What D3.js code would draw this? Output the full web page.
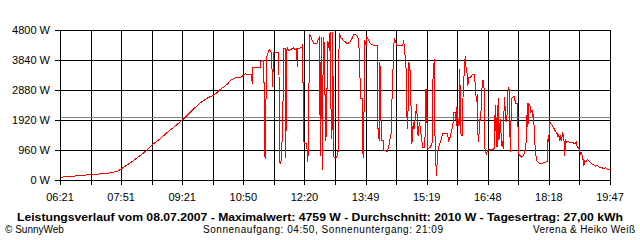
<!DOCTYPE html>
<html>
<head>
<meta charset="utf-8">
<script src="https://cdn.jsdelivr.net/npm/d3@7"></script>
<style>
  body { margin: 0; background: #fff; }
  svg { display: block; }
</style>
</head>
<body>
<svg></svg>
<script>
// day range and tick labels as printed on the chart
let dayStart = '06:21';
let dayEnd = '19:47';
let xLabels = ['06:21', '07:51', '09:21', '10:50', '12:20', '13:49', '15:19', '16:48', '18:18', '19:47'];
let yTicks = [0, 960, 1920, 2880, 3840, 4800];
let averageW = 2010;

let title = 'Leistungsverlauf vom 08.07.2007 - Maximalwert: 4759 W - Durchschnitt: 2010 W - Tagesertrag: 27,00 kWh';
let footLeft = '\u00a9 SunnyWeb';
let footMid = 'Sonnenaufgang: 04:50, Sonnenuntergang: 21:09';
let footRight = 'Verena & Heiko Wei\u00df';

// power samples [time, watts]
let samples = [
  ['06:21',107],['06:36',128],['06:55',171],['07:20',213],['07:34',245],['07:45',299],['07:50',373],
  ['07:59',501],['08:08',640],['08:18',800],['08:28',981],['08:37',1173],['08:48',1355],['08:58',1547],
  ['09:07',1707],['09:17',1888],['09:24',2027],['09:32',2208],['09:36',2293],['09:42',2400],['09:46',2485],
  ['09:51',2560],['09:56',2635],['10:01',2688],['10:05',2720],['10:11',2827],['10:15',2912],['10:20',2987],
  ['10:26',3093],['10:30',3200],['10:34',3253],['10:40',3307],['10:45',3307],['10:49',3360],['10:52',3413],
  ['11:01',3381],['11:02',3093],['11:03',3627],['11:14',3627],['11:15',3840],['11:19',3840],['11:20',853],
  ['11:21',693],['11:22',2315],['11:23',3947],['11:27',4192],['11:30',4107],['11:32',2987],['11:33',4107],
  ['11:41',4107],['11:42',640],['11:43',533],['11:45',693],['11:47',2400],['11:48',4235],['11:50',4235],
  ['11:51',715],['11:53',4267],['11:56',4160],['12:00',4213],['12:02',4250],['12:05',4190],['12:07',4213],
  ['12:08',3627],['12:09',4213],['12:15',4267],['12:16',4352],['12:17',1280],['12:19',1173],['12:22',1173],
  ['12:23',587],['12:24',853],['12:26',4661],['12:29',4555],['12:30',4448],['12:32',4400],['12:37',4400],
  ['12:38',4480],['12:40',4555],['12:42',800],['12:43',4587],['12:45',352],['12:46',4587],['12:48',4320],
  ['12:49',1867],['12:50',1280],['12:53',4448],['12:55',4160],['12:56',4759],['12:58',1333],['12:59',1653],
  ['13:00',4747],['13:01',800],['13:02',747],['13:06',747],['13:07',928],['13:08',928],['13:09',4107],
  ['13:10',4720],['13:11',4587],['13:14',4533],['13:16',4480],['13:19',4427],['13:21',4373],['13:25',4427],
  ['13:28',4533],['13:31',4693],['13:35',4640],['13:38',4533],['13:41',2613],['13:43',2613],['13:44',907],
  ['13:45',715],['13:46',2613],['13:47',4480],['13:49',4320],['13:50',4587],['13:53',4480],['13:55',4373],
  ['14:00',4320],['14:05',4320],['14:06',1760],['14:07',1440],['14:08',1280],['14:09',3787],['14:10',3307],
  ['14:11',1280],['14:14',1280],['14:15',960],['14:20',928],['14:22',1067],['14:24',1333],['14:26',1547],
  ['14:27',2827],['14:30',4555],['14:34',4320],['14:42',4320],['14:43',4373],['14:44',4480],['14:45',4160],
  ['14:47',3840],['14:48',3147],['14:49',1760],['14:50',1653],['14:51',3787],['14:53',3680],['14:54',2827],
  ['14:55',2187],['14:56',1173],['14:58',1867],['14:59',1653],['15:01',1973],['15:03',2453],['15:04',1760],
  ['15:05',1440],['15:07',1867],['15:09',1547],['15:10',1333],['15:12',1067],['15:15',1067],['15:16',2880],
  ['15:17',2933],['15:18',1920],['15:19',1013],['15:23',1067],['15:26',1227],['15:27',3467],['15:29',3893],
  ['15:30',907],['15:31',587],['15:32',160],['15:33',587],['15:34',960],['15:36',1120],['15:39',1333],
  ['15:41',1493],['15:48',1493],['15:49',1387],['15:50',1280],['15:52',1387],['15:54',1600],['15:56',1760],
  ['15:57',2165],['16:00',2165],['16:01',1760],['16:02',2347],['16:04',1867],['16:05',1760],['16:06',3573],
  ['16:08',1440],['16:10',1440],['16:11',2827],['16:14',3968],['16:15',3680],['16:16',3520],['16:17',3413],
  ['16:18',3040],['16:19',3307],['16:22',3307],['16:24',3381],['16:28',3381],['16:29',2880],['16:31',2507],
  ['16:32',2773],['16:33',1227],['16:34',1280],['16:35',1973],['16:36',1920],['16:38',2400],['16:39',3200],
  ['16:41',3200],['16:42',2827],['16:43',1013],['16:44',907],['16:45',853],['16:47',960],['16:51',992],
  ['16:57',1013],['16:58',2400],['17:00',1067],['17:01',2400],['17:02',1067],['17:03',2635],['17:04',1333],
  ['17:05',1760],['17:06',1973],['17:07',1120],['17:08',1280],['17:10',1013],['17:11',2293],['17:12',2667],
  ['17:13',1973],['17:15',1867],['17:16',2507],['17:17',2933],['17:18',2987],['17:19',2773],['17:20',907],
  ['17:22',2613],['17:23',2667],['17:26',2688],['17:28',2453],['17:31',2453],['17:32',853],['17:34',800],
  ['17:37',747],['17:40',821],['17:42',1013],['17:44',1333],['17:45',2485],['17:46',1707],['17:47',2453],
  ['17:49',2400],['17:50',2187],['17:52',2240],['17:53',2080],['17:54',2133],['17:55',1760],['17:56',1280],
  ['17:57',907],['17:59',640],['18:02',565],['18:05',533],['18:09',565],['18:14',608],['18:15',1333],
  ['18:16',1227],['18:17',1493],['18:18',1867],['18:21',1781],['18:23',1707],['18:25',1632],['18:27',1547],
  ['18:29',1493],['18:30',1387],['18:31',1493],['18:33',1280],['18:34',1440],['18:35',1280],['18:37',1493],
  ['18:38',1440],['18:39',1227],['18:40',800],['18:41',1333],['18:42',1227],['18:45',1248],['18:48',1205],
  ['18:52',1227],['18:54',1173],['18:57',1227],['18:58',1099],['19:00',1035],['19:02',960],['19:03',853],
  ['19:04',907],['19:06',747],['19:07',640],['19:08',480],['19:09',640],['19:11',587],['19:13',672],
  ['19:15',640],['19:18',565],['19:22',501],['19:25',459],['19:28',480],['19:31',416],['19:34',427],
  ['19:37',373],['19:40',405],['19:43',341],['19:47',341]
];

let width = 640;
let height = 240;
let plotLeft = 60, plotRight = 610, plotTop = 30, plotBottom = 180;
let font = '"Liberation Sans", Arial, sans-serif';

let parse = d3.timeParse('%H:%M');
let t0 = parse(dayStart);
let t1 = parse(dayEnd);

let svg = d3.select('svg')
    .attr('width', width)
    .attr('height', height);

let xScale = d3.scaleTime().domain([t0, t1]).range([plotLeft, plotRight]);
let yScale = d3.scaleLinear().domain([0, 4800]).range([plotBottom, plotTop]);

// 18 grid intervals, every second one labelled
let gridTimes = d3.range(19).map(i => new Date(+t0 + i * (t1 - t0) / 18));

let grid = svg.append('g')
    .attr('stroke', '#000')
    .attr('shape-rendering', 'crispEdges');

grid.selectAll('.v')
    .data(gridTimes)
    .enter()
    .append('line')
    .attr('x1', d => Math.round(xScale(d)) + 0.5)
    .attr('x2', d => Math.round(xScale(d)) + 0.5)
    .attr('y1', plotTop)
    .attr('y2', plotBottom + 5);

grid.selectAll('.h')
    .data(yTicks)
    .enter()
    .append('line')
    .attr('x1', plotLeft - 5)
    .attr('x2', plotRight + 1)
    .attr('y1', d => yScale(d) + 0.5)
    .attr('y2', d => yScale(d) + 0.5);

// average line
svg.append('line')
    .attr('x1', plotLeft + 1)
    .attr('x2', plotRight)
    .attr('y1', Math.round(yScale(averageW)) + 0.5)
    .attr('y2', Math.round(yScale(averageW)) + 0.5)
    .attr('stroke', '#808080')
    .attr('shape-rendering', 'crispEdges');

// power line
let line = d3.line()
    .x(d => xScale(parse(d[0])))
    .y(d => yScale(d[1]));

svg.append('path')
    .datum(samples)
    .attr('d', line)
    .attr('transform', 'translate(0.5,0.5)')
    .attr('fill', 'none')
    .attr('stroke', '#ff0000')
    .attr('stroke-width', 1)
    .attr('shape-rendering', 'crispEdges');

// y labels
svg.append('g')
    .selectAll('text')
    .data(yTicks)
    .enter()
    .append('text')
    .attr('x', plotLeft - 10)
    .attr('y', d => yScale(d) + 4)
    .attr('text-anchor', 'end')
    .attr('font-family', font)
    .attr('font-size', 11)
    .text(d => d + ' W');

// x labels
svg.append('g')
    .selectAll('text')
    .data(xLabels)
    .enter()
    .append('text')
    .attr('x', (d, i) => xScale(gridTimes[i * 2]))
    .attr('y', 201)
    .attr('text-anchor', 'middle')
    .attr('font-family', font)
    .attr('font-size', 11)
    .text(d => d);

svg.append('text')
    .attr('x', 320)
    .attr('y', 220.5)
    .attr('text-anchor', 'middle')
    .attr('font-family', font)
    .attr('font-weight', 'bold')
    .attr('font-size', 11)
    .attr('textLength', 606)
    .attr('lengthAdjust', 'spacingAndGlyphs')
    .text(title);

let foot = svg.append('g')
    .attr('font-family', font)
    .attr('font-size', 10);

foot.append('text')
    .attr('x', 5)
    .attr('y', 232.5)
    .text(footLeft);

foot.append('text')
    .attr('x', 323)
    .attr('y', 232.5)
    .attr('text-anchor', 'middle')
    .attr('textLength', 240)
    .text(footMid);

foot.append('text')
    .attr('x', 635)
    .attr('y', 232.5)
    .attr('text-anchor', 'end')
    .attr('textLength', 102)
    .text(footRight);
</script>
</body>
</html>
